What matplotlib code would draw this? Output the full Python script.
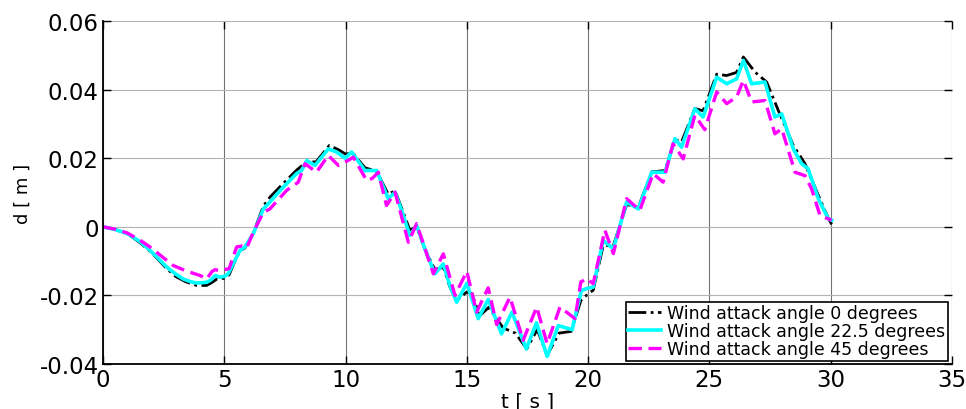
import matplotlib
matplotlib.use("Agg")
import matplotlib.pyplot as plt
from matplotlib.ticker import FuncFormatter

matplotlib.rcParams['font.family'] = ['DejaVu Sans']
matplotlib.rcParams['axes.unicode_minus'] = False

# displacement d [m] against time t [s], three wind attack angles
t_0 = [0, 0.5, 1.0, 1.5, 2.0, 2.6, 3.0, 3.4, 3.86, 4.27, 4.5, 4.7, 5.03, 5.2, 5.44, 5.65, 5.85,
       6.2, 6.61, 6.88, 7.37, 7.98, 8.4, 8.78, 9.33, 9.7, 10.0, 10.3, 10.8, 11.28, 11.76, 12.04,
       12.31, 12.65, 12.93, 13.27, 13.68, 14.03, 14.3, 14.58, 15.0, 15.2, 15.54, 15.9, 16.5, 17.0,
       17.47, 17.9, 18.31, 18.8, 19.3, 19.7, 20.0, 20.21, 20.62, 21.04, 21.59, 22.07, 22.62, 23.17,
       23.58, 23.85, 24.4, 24.74, 25.3, 25.71, 26.12, 26.4, 26.88, 27.36, 27.84, 28.46, 28.94,
       29.5, 29.9, 30.04]
d_0 = [0, -0.0008, -0.002, -0.0045, -0.0075, -0.012, -0.0145, -0.016, -0.0171, -0.0171, -0.0162,
       -0.0152, -0.015, -0.014, -0.01, -0.007, -0.0062, -0.0018, 0.006, 0.0086, 0.0122, 0.0165,
       0.019, 0.0189, 0.0237, 0.0225, 0.0212, 0.0215, 0.0172, 0.0162, 0.0095, 0.0105, 0.0055,
       -0.001, 0.0, -0.0065, -0.0125, -0.0118, -0.0175, -0.0215, -0.019, -0.0195, -0.0259,
       -0.0235, -0.0295, -0.031, -0.0356, -0.030, -0.0375, -0.031, -0.0305, -0.0215, -0.0195,
       -0.0185, -0.0055, -0.0055, 0.0065, 0.0057, 0.016, 0.0164, 0.0255, 0.0247, 0.0345, 0.0338,
       0.0445, 0.0441, 0.045, 0.0495, 0.0451, 0.0422, 0.0339, 0.0237, 0.0184, 0.009, 0.0025,
       0.0007]

t_22 = [0, 0.5, 1.0, 1.5, 1.94, 2.3, 2.62, 3.0, 3.3, 3.6, 3.86, 4.27, 4.45, 4.62, 4.82, 5.03, 5.16,
        5.44, 5.65, 5.85, 6.2, 6.61, 6.88, 7.37, 7.98, 8.19, 8.4, 8.74, 9.29, 9.63, 9.98, 10.25,
        10.8, 11.28, 11.76, 12.04, 12.31, 12.65, 12.93, 13.27, 13.68, 14.03, 14.3, 14.58, 15.0,
        15.47, 15.88, 16.43, 16.86, 17.45, 17.87, 18.31, 18.77, 19.34, 19.72, 19.94, 20.21, 20.62,
        21.04, 21.59, 22.07, 22.62, 23.17, 23.58, 23.85, 24.4, 24.74, 25.3, 25.71, 26.12, 26.4,
        26.74, 27.29, 27.7, 27.98, 28.46, 28.8, 29.07, 29.49, 29.9, 30.04]
d_22 = [0, -0.0008, -0.002, -0.0042, -0.0069, -0.0094, -0.0117, -0.0138, -0.0152, -0.016, -0.0164,
        -0.0162, -0.0155, -0.0142, -0.0147, -0.0144, -0.0137, -0.0098, -0.0069, -0.0059, -0.002,
        0.0052, 0.0072, 0.0111, 0.0155, 0.0164, 0.0193, 0.0179, 0.0227, 0.0218, 0.02, 0.0218,
        0.0164, 0.0164, 0.0082, 0.0101, 0.0048, -0.0025, 0.0004, -0.0064, -0.0137, -0.0108,
        -0.0171, -0.022, -0.0165, -0.0268, -0.0212, -0.0312, -0.0249, -0.0356, -0.028, -0.0378,
        -0.0288, -0.03, -0.0186, -0.018, -0.0176, -0.004, -0.0064, 0.0072, 0.0052, 0.0159, 0.0159,
        0.0257, 0.0232, 0.0344, 0.032, 0.0436, 0.0417, 0.0431, 0.0485, 0.0417, 0.0422, 0.032,
        0.0329, 0.0227, 0.0184, 0.0169, 0.0082, 0.0023, 0.0019]

t_45 = [0, 0.5, 1.0, 1.5, 1.94, 2.4, 2.9, 3.4, 4.0, 4.27, 4.5, 4.62, 4.82, 5.2, 5.51, 5.72, 5.93,
        6.2, 6.61, 6.88, 7.57, 8.05, 8.33, 8.8, 9.29, 9.7, 10.1, 10.32, 10.87, 11.1, 11.35, 11.69,
        12.04, 12.59, 12.93, 13.62, 14.03, 14.51, 15.0, 15.4, 15.88, 16.23, 16.78, 17.32, 17.88,
        18.31, 18.84, 19.46, 19.7, 19.94, 20.21, 20.69, 21.04, 21.59, 22.13, 22.68, 23.09, 23.5,
        23.92, 24.4, 24.81, 25.3, 25.71, 26.12, 26.4, 26.74, 27.29, 27.7, 27.98, 28.53, 28.94,
        29.21, 29.56, 30.04]
d_45 = [0, -0.0007, -0.0018, -0.0038, -0.0059, -0.0085, -0.0113, -0.0128, -0.0142, -0.0152, -0.013,
        -0.0125, -0.0128, -0.0122, -0.0059, -0.0056, -0.0061, -0.0015, 0.0042, 0.0052, 0.0106,
        0.013, 0.0184, 0.0159, 0.0208, 0.0179, 0.0193, 0.0203, 0.0135, 0.0141, 0.0159, 0.0062,
        0.0101, -0.0045, 0.0009, -0.0137, -0.0079, -0.02, -0.013, -0.0249, -0.0178, -0.0285,
        -0.0205, -0.0331, -0.0234, -0.0341, -0.0234, -0.0268, -0.0161, -0.0151, -0.0166, -0.001,
        -0.0078, 0.0082, 0.0048, 0.0155, 0.013, 0.0242, 0.0198, 0.0325, 0.0283, 0.0393, 0.0359,
        0.0378, 0.0427, 0.0364, 0.0368, 0.0271, 0.0286, 0.0159, 0.0149, 0.0111, 0.0033, 0.0019]

labels = ["Wind attack angle 0 degrees",
          "Wind attack angle 22.5 degrees",
          "Wind attack angle 45 degrees"]

x_ticks = [0, 5, 10, 15, 20, 25, 30, 35]
y_ticks = [-0.04, -0.02, 0, 0.02, 0.04, 0.06]

fig = plt.figure(figsize=(9.66, 4.10), dpi=100)
ax = fig.add_axes([0.1066, 0.1098, 0.8789, 0.8366])

ax.plot(t_0, d_0, color='k', linestyle='-.', linewidth=2, label=labels[0])
ax.plot(t_22, d_22, color=(0, 1, 1), linestyle='-', linewidth=2.6, label=labels[1])
ax.plot(t_45, d_45, color=(1, 0, 1), linestyle='--', linewidth=2.4, dashes=(4, 2), label=labels[2])

ax.set_xlim(0, 35)
ax.set_ylim(-0.04, 0.06)
ax.set_xticks(x_ticks)
ax.set_yticks(y_ticks)
ax.yaxis.set_major_formatter(FuncFormatter(lambda v, p: '%g' % round(v, 4)))

# vertical grid a bit darker than horizontal one
ax.xaxis.grid(True, color='0.45', linewidth=0.8)
ax.yaxis.grid(True, color='0.7', linewidth=0.8)
ax.set_axisbelow(True)

ax.spines['top'].set_visible(False)
ax.spines['right'].set_visible(False)
ax.spines['left'].set_linewidth(1.3)
ax.spines['bottom'].set_linewidth(1.3)
ax.tick_params(direction='in', length=6, width=1, labelsize=16.5, pad=3,
               top=True, right=True)
ax.tick_params(axis='y', pad=3)

ax.set_xlabel("t [ s ]", fontsize=14.5, labelpad=0)
ax.set_ylabel("d [ m ]", fontsize=13, labelpad=6)

leg = ax.legend(loc='lower right', bbox_to_anchor=(948 / 966, 1 - 362 / 410),
                bbox_transform=fig.transFigure, fontsize=12.5, frameon=True, fancybox=False,
                framealpha=1, edgecolor='k', handlelength=1.9, handletextpad=0.35,
                labelspacing=0.0, borderpad=0.15, borderaxespad=0)
leg.get_frame().set_linewidth(1.2)

fig.savefig("out.png", dpi=100)
